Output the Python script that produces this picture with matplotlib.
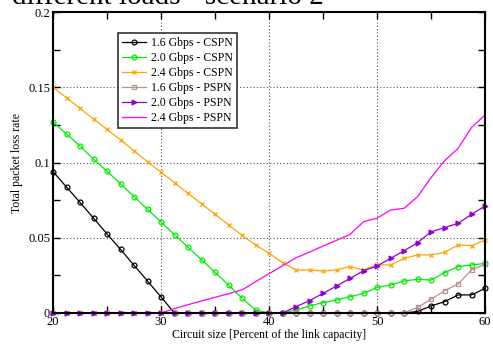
import matplotlib
matplotlib.use("Agg")
from matplotlib import pyplot as plt
from matplotlib.ticker import MultipleLocator, FuncFormatter

plt.rcParams['font.family'] = ['Liberation Serif', 'DejaVu Serif']

# circuit size (percent of link capacity)
circuit_size = [20, 21.25, 22.5, 23.75, 25, 26.25, 27.5, 28.75, 30, 31.25,
                32.5, 33.75, 35, 36.25, 37.5, 38.75, 40, 41.25, 42.5, 43.75,
                45, 46.25, 47.5, 48.75, 50, 51.25, 52.5, 53.75, 55, 56.25,
                57.5, 58.75, 60]

cspn_16 = [0.094, 0.0837, 0.0735, 0.0631, 0.0525, 0.0423, 0.0317, 0.0213, 0.0106,
           0, 0, 0, 0, 0, 0, 0, 0, 0, 0, 0, 0, 0, 0, 0, 0, 0, 0,
           0.001, 0.0047, 0.0075, 0.012, 0.012, 0.0164]
cspn_20 = [0.127, 0.119, 0.111, 0.1023, 0.0942, 0.0859, 0.0773, 0.0689, 0.0605,
           0.052, 0.0437, 0.0354, 0.027, 0.0186, 0.0098, 0.002, 0, 0,
           0.002, 0.0047, 0.0069, 0.0086, 0.0108, 0.013, 0.017, 0.0186,
           0.0213, 0.0224, 0.0219, 0.0268, 0.0308, 0.0319, 0.033]
cspn_24 = [0.150, 0.143, 0.136, 0.129, 0.122, 0.115, 0.1078, 0.1005, 0.0935,
           0.0866, 0.0795, 0.0726, 0.0656, 0.0585, 0.0516, 0.0452, 0.0397,
           0.0334, 0.0286, 0.0286, 0.0279, 0.0286, 0.0308, 0.0286, 0.0319,
           0.0319, 0.0363, 0.0386, 0.0386, 0.0403, 0.0452, 0.0448, 0.0485]
pspn_16 = [0, 0, 0, 0, 0, 0, 0, 0, 0, 0, 0, 0, 0, 0, 0, 0, 0, 0, 0, 0, 0, 0,
           0, 0, 0, 0, 0, 0.0038, 0.0091, 0.0148, 0.0193, 0.0286, 0.0324]
pspn_20 = [0, 0, 0, 0, 0, 0, 0, 0, 0, 0, 0, 0, 0, 0, 0, 0, 0, 0,
           0.0042, 0.0082, 0.013, 0.018, 0.023, 0.0281, 0.0312, 0.0363,
           0.0414, 0.0467, 0.054, 0.0567, 0.0596, 0.0656, 0.0711]
pspn_24 = [0, 0, 0, 0, 0, 0, 0, 0, 0, 0.0029, 0.0055, 0.008, 0.0104, 0.0128,
           0.0153, 0.0208, 0.0261, 0.0314, 0.0367, 0.0405, 0.0445, 0.0483,
           0.0523, 0.0607, 0.063, 0.0684, 0.0696, 0.0773, 0.090, 0.1012,
           0.1094, 0.1234, 0.1316]

series = [
    ('1.6 Gbps - CSPN', cspn_16, '#000000', 'o', 'none'),
    ('2.0 Gbps - CSPN', cspn_20, '#00ee00', 'o', 'none'),
    ('2.4 Gbps - CSPN', cspn_24, '#ffa500', 'x', 'none'),
    ('1.6 Gbps - PSPN', pspn_16, '#bc8f8f', 's', 'none'),
    ('2.0 Gbps - PSPN', pspn_20, '#9400d3', '>', 'full'),
    ('2.4 Gbps - PSPN', pspn_24, '#ff00ff', None, 'none'),
]

fig = plt.figure(figsize=(4.93, 3.45), dpi=100)
ax = fig.add_axes([0.1075, 0.0928, 0.8765, 0.8722])

for name, vals, col, mk, fill in series:
    ax.plot(circuit_size, vals, color=col, marker=mk, markersize=3.5,
            linewidth=0.9, fillstyle=fill, markeredgewidth=0.9,
            label=name, clip_on=False, zorder=3)

ax.set_xlim(20, 60)
ax.set_ylim(0, 0.2)
ax.xaxis.set_major_locator(MultipleLocator(10))
ax.xaxis.set_minor_locator(MultipleLocator(5))
ax.yaxis.set_major_locator(MultipleLocator(0.05))
ax.yaxis.set_minor_locator(MultipleLocator(0.025))
ax.yaxis.set_major_formatter(FuncFormatter(lambda v, p: '%g' % round(v, 3)))
ax.tick_params(which='both', direction='in', top=True, right=True,
               labelsize=9, pad=2)
ax.tick_params(which='major', length=5, width=1)
ax.tick_params(which='minor', length=5, width=1)
ax.grid(True, which='major', linestyle=(0, (1, 2)), color='#555555',
        linewidth=0.8)
for s in ax.spines.values():
    s.set_linewidth(1.5)
    s.set_zorder(4)

ax.set_xlabel('Circuit size [Percent of the link capacity]', fontsize=8.5,
              labelpad=1)
ax.set_ylabel('Total packet loss rate', fontsize=8.5, labelpad=4)

leg = ax.legend(loc='upper left', bbox_to_anchor=(0.150, 0.930),
                borderaxespad=0, fontsize=8.5, handlelength=2.0,
                labelspacing=0.25, handletextpad=0.5, borderpad=0.35,
                fancybox=False, framealpha=1)
leg.get_frame().set_edgecolor('#333333')
leg.get_frame().set_linewidth(1.2)
leg.set_zorder(5)

fig.text(12 / 493, 1 - 3.5 / 345, 'different loads - scenario 2',
         fontsize=21, ha='left', va='baseline')

fig.savefig('out.png', dpi=100)
